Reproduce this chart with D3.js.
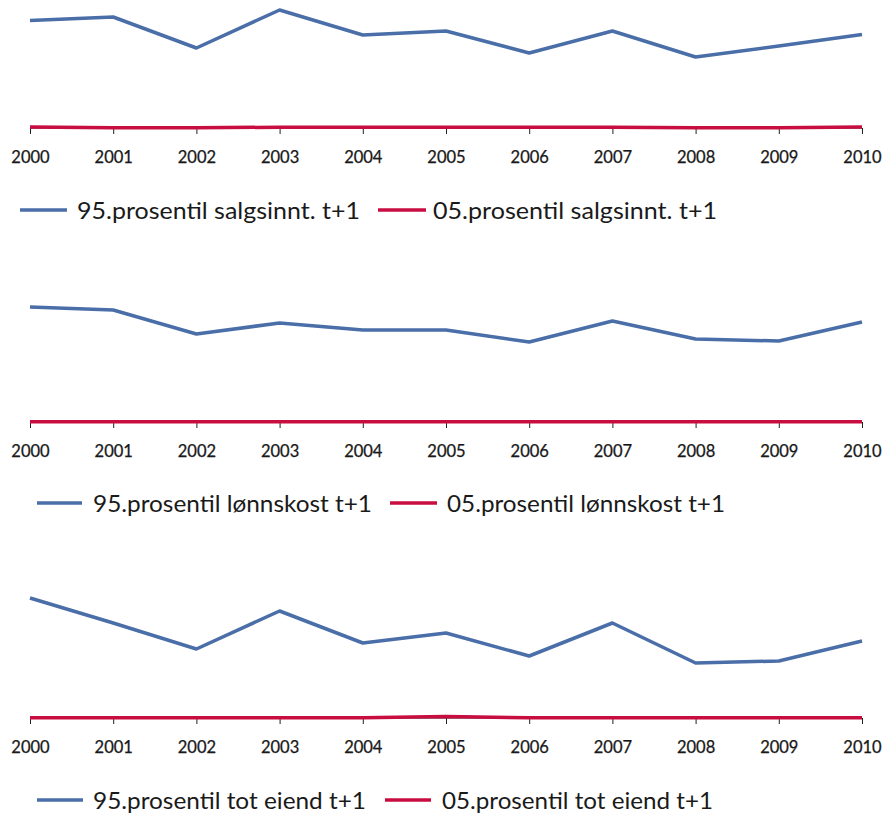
<!DOCTYPE html>
<html>
<head>
<meta charset="utf-8">
<script src="https://cdn.jsdelivr.net/npm/d3@7"></script>
<style>
  html, body { margin: 0; padding: 0; background: #fff; }
  svg { display: block; }
  text { font-family: Lato, "Open Sans", "Noto Sans", sans-serif; fill: #1a1a1a; }
</style>
</head>
<body>
<svg id="chart" width="883" height="816"></svg>
<script>
// Years on the horizontal axis
const years = [2000, 2001, 2002, 2003, 2004, 2005, 2006, 2007, 2008, 2009, 2010];

// Sales revenue t+1 (salgsinntekter)
const salgP95 = [107.5, 111, 80, 118, 93, 97, 75, 97, 71, 82, 93.5];
const salgP05 = [0.9, 0.2, 0.2, 0.8, 0.8, 0.8, 0.8, 0.8, 0.2, 0.2, 0.9];

// Wage costs t+1 (lønnskostnader)
const lonnP95 = [115, 112, 88, 99, 92, 92, 80, 101, 83, 81, 100];
const lonnP05 = [0.3, 0.3, 0.3, 0.3, 0.3, 0.3, 0.3, 0.3, 0.3, 0.3, 0.3];

// Total assets t+1 (totale eiendeler)
const eiendP95 = [120, 95, 69, 107, 75, 85, 62, 95, 55, 57, 77];
const eiendP05 = [0.3, 0.3, 0.3, 0.3, 0.3, 1.5, 0.3, 0.3, 0.3, 0.3, 0.3];

// Legend labels
const salgLabels = ["95.prosentil salgsinnt. t+1", "05.prosentil salgsinnt. t+1"];
const lonnLabels = ["95.prosentil lønnskost t+1", "05.prosentil lønnskost t+1"];
const eiendLabels = ["95.prosentil tot eiend t+1", "05.prosentil tot eiend t+1"];

const colors = ["#4a6ea8", "#c80d40"];

const panels = [
  { series: [salgP95, salgP05], labels: salgLabels, axisY: 128,
    legend: { y: 210, items: [{ x1: 20, x2: 67, tx: 77, tw: 283 }, { x1: 378, x2: 426, tx: 433, tw: 284 }] } },
  { series: [lonnP95, lonnP05], labels: lonnLabels, axisY: 422,
    legend: { y: 503, items: [{ x1: 37, x2: 82, tx: 93, tw: 279 }, { x1: 390, x2: 437, tx: 447, tw: 278 }] } },
  { series: [eiendP95, eiendP05], labels: eiendLabels, axisY: 718,
    legend: { y: 800, items: [{ x1: 37, x2: 83, tx: 93, tw: 273 }, { x1: 385, x2: 431, tx: 442, tw: 271 }] } }
];

const svg = d3.select("#chart");

const x = d3.scalePoint().domain(years).range([30, 862]);

panels.forEach(p => {
  const g = svg.append("g");
  const y = d3.scaleLinear().domain([0, 120]).range([p.axisY, p.axisY - 120]);

  // x axis with small downward ticks
  const axis = d3.axisBottom(x).tickSize(6).tickPadding(17).tickFormat(d3.format("d"));
  const ax = g.append("g").attr("transform", `translate(0,${p.axisY})`).call(axis);
  ax.select(".domain").attr("stroke", "#888").attr("stroke-width", 1);
  ax.selectAll(".tick line").attr("stroke", "#222").attr("stroke-width", 1);
  ax.selectAll(".tick text")
    .attr("font-family", "Lato, 'Open Sans', sans-serif")
    .attr("font-size", 16.5)
    .attr("fill", "#0a0a0a")
    .attr("stroke", "#0a0a0a")
    .attr("stroke-width", 0.25);

  const line = d3.line().x((d, i) => x(years[i])).y(d => y(d));

  // draw the 5th percentile last so it sits on the axis line
  p.series.forEach((s, i) => {
    g.append("path")
      .datum(s)
      .attr("fill", "none")
      .attr("stroke", colors[i])
      .attr("stroke-width", 3.5)
      .attr("stroke-linejoin", "round")
      .attr("d", line);
  });

  // legend
  const lg = g.append("g");
  p.legend.items.forEach((it, i) => {
    lg.append("line")
      .attr("x1", it.x1).attr("x2", it.x2)
      .attr("y1", p.legend.y).attr("y2", p.legend.y)
      .attr("stroke", colors[i]).attr("stroke-width", 3.5);
    lg.append("text")
      .attr("x", it.tx).attr("y", p.legend.y)
      .attr("dy", "0.36em")
      .attr("font-size", 24)
      .attr("textLength", it.tw)
      .attr("lengthAdjust", "spacingAndGlyphs")
      .text(p.labels[i]);
  });
});
</script>
</body>
</html>
